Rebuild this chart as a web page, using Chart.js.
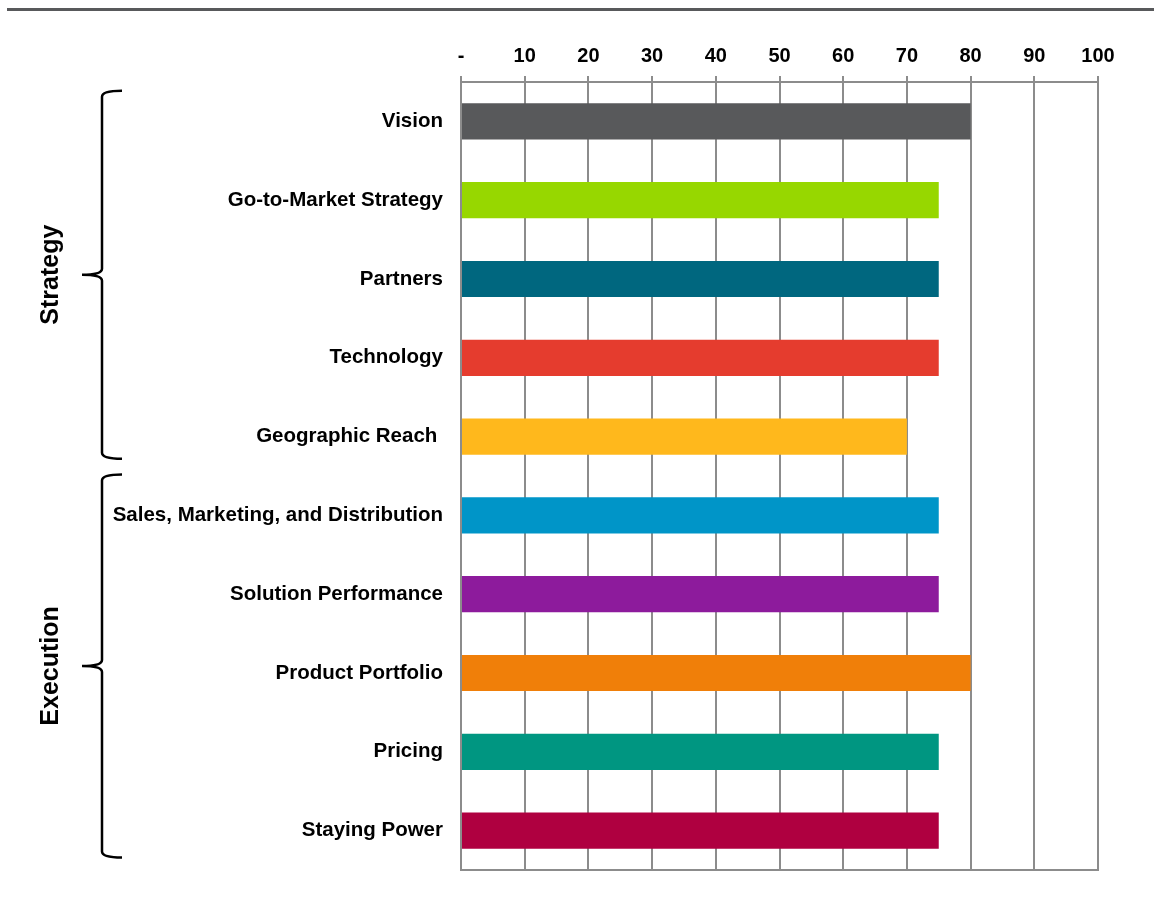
<!DOCTYPE html>
<html>
<head>
<meta charset="utf-8">
<script src="https://cdn.jsdelivr.net/npm/chart.js@4.4.0/dist/chart.umd.min.js"></script>
<style>
  body { margin: 0; background: #fff; }
  #wrap { width: 1154px; height: 906px; position: relative; }
</style>
</head>
<body>
<div id="wrap"><canvas id="scoreChart"></canvas></div>
<script>
// Chart data
const categories = [
  "Vision", "Go-to-Market Strategy", "Partners", "Technology", "Geographic Reach ",
  "Sales, Marketing, and Distribution", "Solution Performance", "Product Portfolio",
  "Pricing", "Staying Power"
];
const scores = [80, 75, 75, 75, 70, 75, 75, 80, 75, 75];
const barColors = [
  "#58595b", "#97d700", "#00677f", "#e53c2e", "#ffb81c",
  "#0095c8", "#8d1b9c", "#f07f09", "#009681", "#af0040"
];
const tickValues = [0, 10, 20, 30, 40, 50, 60, 70, 80, 90, 100];
const groups = [
  { label: "Strategy", from: 0, to: 4 },
  { label: "Execution", from: 5, to: 9 }
];

const FONT = "'Liberation Sans', Arial, Helvetica, sans-serif";
const GRID = "#8c8c8c";

// Draws the grouping brackets on the left and the rule at the top of the page
const bracketPlugin = {
  id: "brackets",
  afterDraw(chart) {
    const ctx = chart.ctx;
    const y = chart.scales.y;
    const step = y.getPixelForValue(1) - y.getPixelForValue(0);

    ctx.save();
    // top rule
    ctx.fillStyle = "#58595b";
    ctx.fillRect(7, 8, 1147, 3);

    const offsets = [[0.39, 0.28], [0.52, 0.34]];
    groups.forEach((g, i) => {
      const top = y.getPixelForValue(g.from) - step * offsets[i][0];
      const bottom = y.getPixelForValue(g.to) + step * offsets[i][1];
      const mid = (top + bottom) / 2;
      const xs = 102, xe = 122, xn = 82, r = 6;

      ctx.strokeStyle = "#000";
      ctx.lineWidth = 2.5;
      ctx.beginPath();
      ctx.moveTo(xe, top);
      ctx.quadraticCurveTo(xs, top, xs, top + r);
      ctx.lineTo(xs, mid - r);
      ctx.quadraticCurveTo(xs, mid, xn, mid);
      ctx.quadraticCurveTo(xs, mid, xs, mid + r);
      ctx.lineTo(xs, bottom - r);
      ctx.quadraticCurveTo(xs, bottom, xe, bottom);
      ctx.stroke();

      ctx.translate(51, mid);
      ctx.rotate(-Math.PI / 2);
      ctx.fillStyle = "#000";
      ctx.font = "bold 25px " + FONT;
      ctx.textAlign = "center";
      ctx.textBaseline = "middle";
      ctx.fillText(g.label, 0, 0);
      ctx.setTransform(1, 0, 0, 1, 0, 0);
    });
    ctx.restore();
  }
};

new Chart(document.getElementById("scoreChart"), {
  type: "bar",
  data: {
    labels: categories,
    datasets: [{
      data: scores,
      backgroundColor: barColors,
      barPercentage: 0.46,
      categoryPercentage: 1.0
    }]
  },
  options: {
    indexAxis: "y",
    responsive: true,
    maintainAspectRatio: false,
    animation: false,
    layout: { padding: { left: 0, right: 56, top: 0, bottom: 36 } },
    plugins: {
      legend: { display: false },
      tooltip: { enabled: false }
    },
    scales: {
      x: {
        position: "top",
        min: 0,
        max: 100,
        afterBuildTicks(scale) {
          scale.ticks = tickValues.map(v => ({ value: v }));
        },
        afterFit(scale) { scale.height = 82; },
        grid: { color: GRID, lineWidth: 2, tickLength: 6 },
        border: { display: true, color: GRID, width: 2 },
        ticks: {
          padding: 8,
          color: "#000",
          font: { family: FONT, size: 20, weight: "bold" },
          callback: v => (v === 0 ? "-" : v)
        }
      },
      x2: {
        position: "bottom",
        min: 0,
        max: 100,
        afterFit(scale) { scale.height = 0; },
        grid: { display: false, drawTicks: false },
        border: { display: true, color: GRID, width: 2 },
        ticks: { display: false }
      },
      y: {
        afterFit(scale) { scale.width = 461; },
        grid: { display: false, drawTicks: false },
        border: { display: true, color: GRID, width: 2 },
        ticks: {
          padding: 18,
          color: "#000",
          font: { family: FONT, size: 20.5, weight: "bold" }
        }
      }
    }
  },
  plugins: [bracketPlugin]
});
</script>
</body>
</html>
